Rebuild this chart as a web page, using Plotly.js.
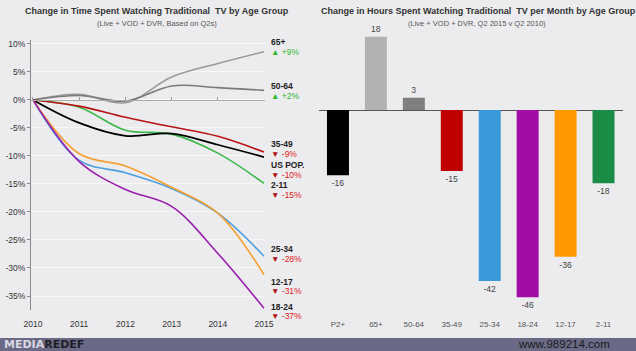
<!DOCTYPE html>
<html><head><meta charset="utf-8">
<script src="https://cdn.plot.ly/plotly-3.0.1.min.js"></script>
<style>html,body{margin:0;padding:0;background:#ececee;}#c{width:636px;height:351px;}</style>
</head><body><div id="c"></div>
<script>
const years = [2010, 2011, 2012, 2013, 2014, 2015];
const s65 = [0, 1.0, -0.5, 4.1, 6.5, 8.6];
const s5064 = [0, 0.8, -0.2, 2.5, 2.2, 1.7];
const s3549 = [0, -1.1, -3.1, -4.8, -6.5, -9.3];
const sUS = [0, -4.1, -6.4, -6.0, -8.0, -10.2];
const s211 = [0, -1.3, -5.4, -6.1, -9.5, -14.9];
const s2534 = [0, -10.8, -13.0, -15.8, -20.2, -27.9];
const s1217 = [0, -9.6, -11.8, -15.6, -20.2, -31.2];
const s1824 = [0, -11.0, -16.0, -19.0, -27.4, -37.2];
const yTickVals = [10, 5, 0, -5, -10, -15, -20, -25, -30, -35];
const yTickText = ['10%', '5%', '0%', '-5%', '-10%', '-15%', '-20%', '-25%', '-30%', '-35%'];

const barCats = ['P2+', '65+', '50-64', '35-49', '25-34', '18-24', '12-17', '2-11'];
const barVals = [-16, 18, 3, -15, -42, -46, -36, -18];
const barColors = ['#000000', '#b2b2b2', '#7f7f7f', '#c00000', '#3a9ad9', '#a10ea6', '#ff9900', '#1a8c46'];

// label rows at the right end of the line chart (pixel rows from top)
const lineLabels = [
  {name: '65+', ny: 42, val: '+9%', vy: 52, up: true},
  {name: '50-64', ny: 86, val: '+2%', vy: 96, up: true},
  {name: '35-49', ny: 144, val: '-9%', vy: 154, up: false},
  {name: 'US POP.', ny: 165, val: '-10%', vy: 175, up: false},
  {name: '2-11', ny: 185, val: '-15%', vy: 195, up: false},
  {name: '25-34', ny: 249, val: '-28%', vy: 259, up: false},
  {name: '12-17', ny: 282, val: '-31%', vy: 291, up: false},
  {name: '18-24', ny: 307, val: '-37%', vy: 316, up: false}
];

const FONT = '"Liberation Sans", Arial, sans-serif';
const H = 351, W = 636;

function ln(y, color, w) {
  return {x: years, y: y, type: 'scatter', mode: 'lines', xaxis: 'x', yaxis: 'y',
    line: {color: color, width: w, shape: 'spline', smoothing: 1.0}, hoverinfo: 'skip', showlegend: false};
}
const traces = [
  ln(s65, '#9a9a9a', 1.6),
  ln(s5064, '#7a7a7a', 1.6),
  ln(s211, '#3cb84a', 1.6),
  ln(s3549, '#b81414', 1.6),
  ln(sUS, '#000000', 1.8),
  ln(s2534, '#4a9ee0', 1.6),
  ln(s1217, '#f5a030', 1.6),
  ln(s1824, '#9b1fae', 1.6),
  {x: [], y: [], type: 'scatter', xaxis: 'x3', yaxis: 'y', showlegend: false},
  {x: barCats, y: barVals, type: 'bar', xaxis: 'x2', yaxis: 'y2',
   marker: {color: barColors}, text: barVals.map(String), textposition: 'outside',
   textfont: {size: 8.5, color: '#444', family: FONT}, cliponaxis: false, hoverinfo: 'skip', showlegend: false}
];

const annotations = [
  {text: '<b>Change in Time Spent Watching Traditional  TV by Age Group</b>', xref: 'paper', yref: 'paper',
   x: 157 / W, y: 1 - 11 / H, xanchor: 'center', yanchor: 'middle', showarrow: false,
   font: {size: 9, color: '#333', family: FONT}},
  {text: '(Live + VOD + DVR, Based on Q2s)', xref: 'paper', yref: 'paper',
   x: 157 / W, y: 1 - 23 / H, xanchor: 'center', yanchor: 'middle', showarrow: false,
   font: {size: 7.5, color: '#555', family: FONT}},
  {text: '<b>Change in Hours Spent Watching Traditional  TV per Month by Age Group</b>', xref: 'paper', yref: 'paper',
   x: 478 / W, y: 1 - 11 / H, xanchor: 'center', yanchor: 'middle', showarrow: false,
   font: {size: 9, color: '#333', family: FONT}},
  {text: '(Live + VOD + DVR, Q2 2015 v Q2 2010)', xref: 'paper', yref: 'paper',
   x: 477 / W, y: 1 - 23 / H, xanchor: 'center', yanchor: 'middle', showarrow: false,
   font: {size: 7.5, color: '#555', family: FONT}},
  {text: '<b><span style="color:#d8d8e2">MEDIA</span><span style="color:#1e1e28">REDEF</span></b>', xref: 'paper', yref: 'paper',
   x: 2 / W, y: 1 - 344.5 / H, xanchor: 'left', yanchor: 'middle', showarrow: false,
   font: {size: 11, family: '"DejaVu Sans", sans-serif'}},
  {text: 'www.989214.com', xref: 'paper', yref: 'paper',
   x: 612 / W, y: 1 - 344 / H, xanchor: 'right', yanchor: 'middle', showarrow: false,
   font: {size: 11.5, color: '#1a1a1a', family: FONT}}
];
lineLabels.forEach(l => {
  annotations.push({text: '<b>' + l.name + '</b>', xref: 'paper', yref: 'paper', x: 269 / W, y: 1 - l.ny / H,
    xanchor: 'left', yanchor: 'middle', showarrow: false, font: {size: 8.5, color: '#222', family: FONT}});
  const tri = l.up ? '<span style="color:#2eb82e">▲</span>' : '<span style="color:#b01010">▼</span>';
  const col = l.up ? '#2eb82e' : '#e02020';
  annotations.push({text: tri + ' <span style="color:' + col + '">' + l.val + '</span>', xref: 'paper', yref: 'paper',
    x: 269 / W, y: 1 - l.vy / H, xanchor: 'left', yanchor: 'middle', showarrow: false,
    font: {size: 8.5, family: FONT}});
});

const layout = {
  width: W, height: H, margin: {l: 0, r: 0, t: 0, b: 0},
  paper_bgcolor: '#ececee', plot_bgcolor: 'rgba(0,0,0,0)',
  font: {family: FONT, size: 9, color: '#333'},
  showlegend: false, bargap: 0.42,
  xaxis: {domain: [31 / W, 264.5 / W], range: [2009.957, 2015.01], tickvals: years,
    ticktext: years.map(String), showgrid: false, zeroline: false, showline: false, ticks: '',
    ticklabelstandoff: 7, tickfont: {size: 8.5, color: '#333'}, fixedrange: true},
  xaxis3: {overlaying: 'x', anchor: 'free', position: 1 - 100 / H, matches: 'x',
    tickvals: years, showticklabels: false, ticks: 'inside', ticklen: 3, tickcolor: '#999',
    showline: true, linecolor: '#aaa', linewidth: 1, showgrid: false, zeroline: false},
  yaxis: {domain: [1 - 310 / H, 1 - 40 / H], range: [-37.5, 10.7], tickvals: yTickVals, ticktext: yTickText,
    showgrid: true, gridcolor: '#f7f7f8', gridwidth: 1, zeroline: false, showline: true, linecolor: '#8a8a8a',
    linewidth: 1, ticks: 'outside', ticklen: 3, tickcolor: '#8a8a8a', tickfont: {size: 8.5, color: '#333'},
    anchor: 'x', fixedrange: true},
  xaxis2: {domain: [319 / W, 622.5 / W], anchor: 'y2', showgrid: false, zeroline: false, showline: false,
    ticks: '', ticklabelstandoff: 6, tickfont: {size: 8, color: '#555'}, fixedrange: true},
  yaxis2: {domain: [1 - 312 / H, 1 - 30 / H], range: [-49.6, 19.66], anchor: 'x2', visible: true,
    showticklabels: false, showgrid: false, zeroline: true, zerolinecolor: '#555', zerolinewidth: 1,
    showline: false, ticks: '', fixedrange: true},
  shapes: [
    {type: 'rect', xref: 'paper', yref: 'paper', x0: 0, x1: 1, y0: 0, y1: 1 - 338 / H,
     fillcolor: '#6b6a86', line: {width: 0}, layer: 'below'}
  ],
  annotations: annotations
};
Plotly.newPlot('c', traces, layout, {staticPlot: true, displayModeBar: false});
</script></body></html>
